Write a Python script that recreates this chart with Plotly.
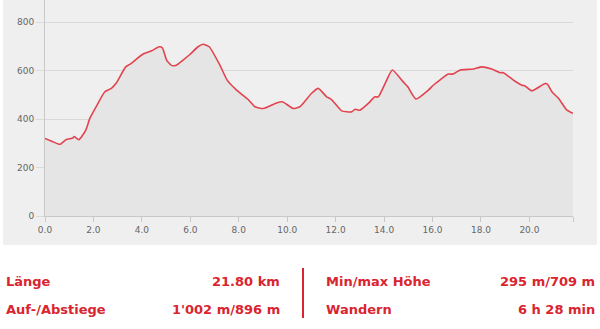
import plotly.graph_objects as go

# distance (km) and elevation (m)
km = [0.0, 0.3, 0.61, 0.88, 1.15, 1.2, 1.4, 1.68, 1.85, 2.15, 2.47, 2.74, 2.95, 3.33, 3.5,
      4.05, 4.4, 4.71, 4.85, 5.02, 5.22, 5.42, 5.7, 5.98, 6.32, 6.53, 6.78, 7.22, 7.52, 7.91,
      8.39, 8.67, 9.01, 9.56, 9.8, 10.25, 10.52, 11.0, 11.28, 11.63, 11.83, 12.25, 12.66,
      12.8, 13.0, 13.35, 13.62, 13.76, 14.04, 14.34, 14.79, 15.0, 15.14, 15.32, 15.83,
      16.03, 16.65, 16.85, 17.14, 17.69, 18.03, 18.44, 18.79, 18.93, 19.34, 19.69, 19.82,
      20.1, 20.65, 20.75, 20.93, 21.2, 21.55, 21.8]
elev = [320, 308, 296, 316, 322, 328, 315, 354, 403, 458, 513, 527, 550, 616, 626,
        669, 682, 699, 694, 644, 622, 623, 644, 667, 699, 709, 699, 623, 561, 520,
        481, 451, 444, 467, 472, 444, 451, 506, 527, 492, 481, 434, 430,
        441, 437, 465, 492, 492, 547, 603, 554, 531, 506, 483, 520,
        540, 586, 586, 603, 607, 616, 607, 592, 592, 561, 540, 537,
        517, 547, 544, 513, 486, 437, 424]

x_ticks = [0, 2, 4, 6, 8, 10, 12, 14, 16, 18, 20, 21.8]
x_tick_labels = ["0.0", "2.0", "4.0", "6.0", "8.0", "10.0", "12.0", "14.0", "16.0", "18.0", "20.0", ""]
y_ticks = [0, 200, 400, 600, 800]

stat_labels_left = ["Länge", "Auf-/Abstiege"]
stat_values_left = ["21.80 km", "1'002 m/896 m"]
stat_labels_right = ["Min/max Höhe", "Wandern"]
stat_values_right = ["295 m/709 m", "6 h 28 min"]

RED = "#d9252f"
W, H = 600, 329
L, R, T, B = 45, 27, 0, 113
pw, ph = W - L - R, H - T - B


def px(x):
    return (x - L) / pw


def py(y):
    return (H - B - y) / ph


fig = go.Figure()
fig.add_trace(go.Scatter(
    x=km, y=elev, mode="lines",
    line=dict(color="#e2444f", width=1.6, shape="spline", smoothing=0.5),
    fill="tozeroy", fillcolor="#e5e5e5", hoverinfo="skip", showlegend=False))

shapes = [
    dict(type="rect", xref="paper", yref="paper", x0=px(3), x1=px(597), y0=py(245), y1=py(0),
         fillcolor="#efefef", line=dict(width=0), layer="below"),
    dict(type="line", xref="paper", yref="paper", x0=px(303), x1=px(303), y0=py(268), y1=py(318),
         line=dict(color=RED, width=2)),
]

annotations = []
rows_y = [281, 309]
for i in range(2):
    annotations.append(dict(xref="paper", yref="paper", x=px(4), y=py(rows_y[i]), xanchor="left",
                            yanchor="middle", text="<b>%s</b>" % stat_labels_left[i], showarrow=False))
    annotations.append(dict(xref="paper", yref="paper", x=px(282), y=py(rows_y[i]), xanchor="right",
                            yanchor="middle", text="<b>%s</b>" % stat_values_left[i], showarrow=False))
    annotations.append(dict(xref="paper", yref="paper", x=px(324), y=py(rows_y[i]), xanchor="left",
                            yanchor="middle", text="<b>%s</b>" % stat_labels_right[i], showarrow=False))
    annotations.append(dict(xref="paper", yref="paper", x=px(597), y=py(rows_y[i]), xanchor="right",
                            yanchor="middle", text="<b>%s</b>" % stat_values_right[i], showarrow=False))
for a in annotations:
    a["font"] = dict(family="DejaVu Sans", size=13, color=RED)

fig.update_layout(
    width=W, height=H,
    margin=dict(l=L, r=R, t=T, b=B, pad=0),
    paper_bgcolor="white", plot_bgcolor="rgba(0,0,0,0)",
    font=dict(family="DejaVu Sans", size=9, color="#666666"),
    shapes=shapes, annotations=annotations,
    xaxis=dict(range=[0, 21.8], tickvals=x_ticks, ticktext=x_tick_labels,
               showgrid=False, zeroline=False, showline=True, linecolor="#c8c8c8", linewidth=1,
               ticks="outside", ticklen=5, tickcolor="#c8c8c8", fixedrange=True),
    yaxis=dict(range=[0, 892], tickvals=y_ticks, showgrid=True, gridcolor="#dadada", gridwidth=1,
               zeroline=False, showline=True, linecolor="#c8c8c8", linewidth=1,
               ticks="outside", ticklen=8, tickcolor="#dadada", fixedrange=True),
)

fig.write_html("out.html")
